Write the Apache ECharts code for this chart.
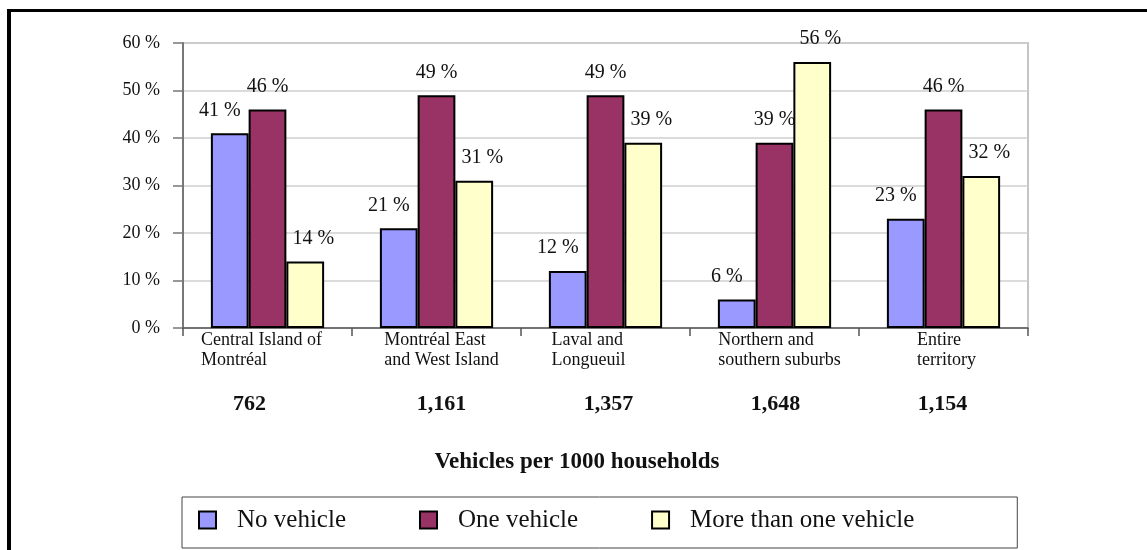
<!DOCTYPE html>
<html>
<head>
<meta charset="utf-8">
<title>Household vehicle ownership by sector</title>
<script src="https://cdn.jsdelivr.net/npm/echarts@6/dist/echarts.min.js"></script>
<style>
  html, body { margin: 0; padding: 0; background: #fff; }
  #chart { width: 1147px; height: 550px; }
</style>
</head>
<body>
<div id="chart"></div>
<script>
// Sectors (category label lines)
const sectors = [
  ['Central Island of', 'Montréal'],
  ['Montréal East', 'and West Island'],
  ['Laval and', 'Longueuil'],
  ['Northern and', 'southern suburbs'],
  ['Entire', 'territory']
];
// Share of households (%) by number of vehicles
const noVehicle   = [41, 21, 12, 6, 23];
const oneVehicle  = [46, 49, 49, 39, 46];
const moreThanOne = [14, 31, 39, 56, 32];
// Vehicles per 1000 households
const vehiclesPer1000 = [762, 1161, 1357, 1648, 1154];
// Percentage axis ticks
const yTicks = { min: 0, max: 60, interval: 10 };

// ---- styling / layout ----
const SERIF = "'Liberation Serif', 'Times New Roman', serif";
const TEXT = '#111';
// horizontal nudges (px) of the label blocks under each category
const sectorLabelNudge = [-6, 5, -17, 5, 3];
const countLabelNudge = [-18, 5, 3, 1, -1];

const categoryKeys = sectors.map((s, i) => 'c' + i);

function nudgePadding(n) {
  return n < 0 ? [0, -2 * n, 0, 0] : [0, 0, 0, 2 * n];
}

const sectorRich = {};
const countRich = {};
sectors.forEach((s, i) => {
  sectorRich['s' + i] = {
    align: 'left', fontFamily: SERIF, fontSize: 18, lineHeight: 20, color: TEXT,
    padding: nudgePadding(sectorLabelNudge[i])
  };
  countRich['n' + i] = {
    fontFamily: SERIF, fontSize: 22, fontWeight: 'bold', lineHeight: 24, color: TEXT,
    padding: nudgePadding(countLabelNudge[i])
  };
});

function sectorLabel(value, idx) {
  return sectors[idx].map(line => '{s' + idx + '|' + line + '}').join('\n');
}

function thousands(n) {
  return String(n).replace(/\B(?=(\d{3})+(?!\d))/g, ',');
}

function countLabel(value, idx) {
  return '{n' + idx + '|' + thousands(vehiclesPer1000[idx]) + '}';
}

function barSeries(name, data, color, labelShift) {
  return {
    name: name,
    type: 'bar',
    data: data,
    barGap: '0%',
    barCategoryGap: '33%',
    itemStyle: { color: color, borderColor: '#000', borderWidth: 2 },
    label: {
      show: true,
      position: 'top',
      distance: 13,
      offset: [labelShift, 0],
      formatter: '{c} %',
      fontFamily: SERIF,
      fontSize: 20,
      color: TEXT
    }
  };
}

const chart = echarts.init(document.getElementById('chart'), null, { renderer: 'canvas' });

chart.setOption({
  animation: false,
  backgroundColor: '#fff',
  title: {
    text: 'Vehicles per 1000 households',
    left: 577,
    top: 449,
    padding: 0,
    textAlign: 'center',
    textStyle: { fontFamily: SERIF, fontSize: 23, fontWeight: 'bold', color: TEXT, lineHeight: 26 }
  },
  legend: {
    left: 182,
    top: 497,
    padding: [4, 103, 9, 16],
    itemGap: 73,
    itemWidth: 17,
    itemHeight: 17,
    icon: 'rect',
    borderColor: '#444',
    borderWidth: 1,
    borderRadius: 0,
    itemStyle: { borderColor: '#000', borderWidth: 2 },
    textStyle: {
      fontFamily: SERIF,
      fontSize: 25,
      color: TEXT,
      lineHeight: 26,
      padding: [12, 0, 0, 16]
    },
    data: ['No vehicle', 'One vehicle', 'More than one vehicle']
  },
  grid: {
    left: 183,
    right: 119,
    top: 43,
    bottom: 222,
    show: true,
    borderColor: '#c4c4c4',
    borderWidth: 2,
    backgroundColor: 'transparent'
  },
  xAxis: [
    {
      type: 'category',
      data: categoryKeys,
      position: 'bottom',
      axisLine: { show: true, lineStyle: { color: '#555', width: 1.5 } },
      axisTick: { show: true, length: 8, alignWithLabel: false, lineStyle: { color: '#555', width: 1.5 } },
      axisLabel: {
        margin: 2,
        formatter: sectorLabel,
        fontFamily: SERIF,
        fontSize: 18,
        lineHeight: 20,
        color: TEXT,
        interval: 0,
        rich: sectorRich
      },
      splitLine: { show: false }
    },
    {
      type: 'category',
      data: categoryKeys,
      position: 'bottom',
      axisLine: { show: false },
      axisTick: { show: false },
      splitLine: { show: false },
      axisLabel: {
        margin: 64,
        interval: 0,
        formatter: countLabel,
        fontFamily: SERIF,
        fontSize: 22,
        fontWeight: 'bold',
        lineHeight: 24,
        color: TEXT,
        rich: countRich
      }
    }
  ],
  yAxis: {
    type: 'value',
    min: yTicks.min,
    max: yTicks.max,
    interval: yTicks.interval,
    axisLine: { show: true, lineStyle: { color: '#777', width: 2 } },
    axisTick: { show: true, length: 10, lineStyle: { color: '#777', width: 1.5 } },
    axisLabel: {
      margin: 23,
      formatter: '{value} %',
      fontFamily: SERIF,
      fontSize: 18,
      color: TEXT
    },
    splitLine: { show: true, lineStyle: { color: '#cfcfcf', width: 1.5 } }
  },
  series: [
    barSeries('No vehicle', noVehicle, '#9999FF', -10),
    barSeries('One vehicle', oneVehicle, '#993366', 0),
    barSeries('More than one vehicle', moreThanOne, '#FFFFCC', 8)
  ],
  graphic: [
    // outer frame: left and top rules
    { type: 'line', shape: { x1: 9, y1: 9, x2: 9, y2: 550 }, style: { stroke: '#000', lineWidth: 4 } },
    { type: 'line', shape: { x1: 7, y1: 10.5, x2: 1147, y2: 10.5 }, style: { stroke: '#000', lineWidth: 3 } }
  ]
});
</script>
</body>
</html>
